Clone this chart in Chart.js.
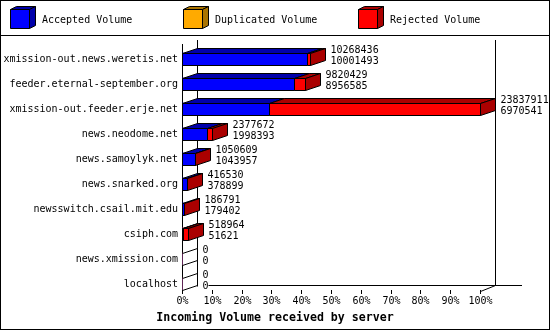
<!DOCTYPE html>
<html>
<head>
<meta charset="utf-8">
<script src="https://cdn.jsdelivr.net/npm/chart.js@4/dist/chart.umd.min.js"></script>
<style>
  html, body { margin: 0; padding: 0; background: #fff; }
  canvas { display: block; }
</style>
</head>
<body>
<canvas id="volumeChart" width="550" height="330"></canvas>
<script>
// data
const servers = [
  'xmission-out.news.weretis.net',
  'feeder.eternal-september.org',
  'xmission-out.feeder.erje.net',
  'news.neodome.net',
  'news.samoylyk.net',
  'news.snarked.org',
  'newsswitch.csail.mit.edu',
  'csiph.com',
  'news.xmission.com',
  'localhost'
];
const offered = [10268436, 9820429, 23837911, 2377672, 1050609, 416530, 186791, 518964, 0, 0];
const accepted = [10001493, 8956585, 6970541, 1998393, 1043957, 378899, 179402, 51621, 0, 0];
const duplicated = [0, 0, 0, 0, 0, 0, 0, 0, 0, 0];
const seriesNames = ['Accepted Volume', 'Duplicated Volume', 'Rejected Volume'];
const percentTicks = [0, 10, 20, 30, 40, 50, 60, 70, 80, 90, 100];
const chartTitle = 'Incoming Volume received by server';

const FRONT = ['#0000ff', '#ffaa00', '#ff0000'];
const DARK = ['#0000aa', '#aa7400', '#aa0000'];
const DX = 15, DY = 5;
const MONO = "'DejaVu Sans Mono', monospace";

const maxVol = Math.max(...offered);
const rejected = offered.map((v, i) => v - accepted[i] - duplicated[i]);
const pct = arr => arr.map(v => v / maxVol * 100);

Chart.defaults.font.family = MONO;
Chart.defaults.font.size = 10;
Chart.defaults.color = '#000';

const poly = (ctx, pts, fill) => {
  ctx.beginPath();
  ctx.moveTo(pts[0][0], pts[0][1]);
  for (let i = 1; i < pts.length; i++) ctx.lineTo(pts[i][0], pts[i][1]);
  ctx.closePath();
  if (fill) { ctx.fillStyle = fill; ctx.fill(); }
  ctx.strokeStyle = '#000';
  ctx.lineWidth = 1;
  ctx.stroke();
};

const line = (ctx, x1, y1, x2, y2) => {
  ctx.beginPath();
  ctx.moveTo(x1, y1);
  ctx.lineTo(x2, y2);
  ctx.strokeStyle = '#000';
  ctx.lineWidth = 1;
  ctx.stroke();
};

const rowBox = (chart, i) => {
  const el = chart.getDatasetMeta(0).data[i];
  const top = Math.round(el.y - el.height / 2);
  return { top: top, bottom: top + Math.round(el.height) };
};

const box3d = {
  id: 'box3d',
  beforeDraw(chart) {
    const ctx = chart.ctx;
    ctx.save();
    ctx.fillStyle = '#fff';
    ctx.fillRect(0, 0, chart.width, chart.height);
    ctx.strokeStyle = '#000';
    ctx.lineWidth = 1;
    ctx.strokeRect(0.5, 0.5, chart.width - 1, chart.height - 1);
    line(ctx, 0, 35.5, chart.width, 35.5);

    // legend with little cubes
    const lx = [10, 183, 358];
    ctx.font = '10px ' + MONO;
    ctx.textBaseline = 'middle';
    ctx.textAlign = 'left';
    seriesNames.forEach((name, k) => {
      const x = lx[k] + 0.5, y = 9.5, s = 19, dx = 6, dy = 3;
      poly(ctx, [[x, y], [x + s, y], [x + s, y + s], [x, y + s]], FRONT[k]);
      poly(ctx, [[x, y], [x + dx, y - dy], [x + s + dx, y - dy], [x + s, y]], DARK[k]);
      poly(ctx, [[x + s, y], [x + s + dx, y - dy], [x + s + dx, y + s - dy], [x + s, y + s]], DARK[k]);
      ctx.fillStyle = '#000';
      ctx.fillText(name, lx[k] + 32, 20);
    });
    ctx.restore();
  },
  beforeDatasetsDraw(chart) {
    const ctx = chart.ctx;
    const xs = chart.scales.x;
    const x0 = Math.round(xs.getPixelForValue(0)) + 0.5;
    const x1 = Math.round(xs.getPixelForValue(100)) + 0.5;
    const last = rowBox(chart, servers.length - 1);
    const floor = last.bottom + 1.5;
    ctx.save();
    line(ctx, x0, 44, x0, floor + 1);
    line(ctx, x0 + DX, 40, x0 + DX, floor - DY);
    line(ctx, x1 + DX, 40, x1 + DX, floor - DY - 1);
    line(ctx, x0 + DX + 11, floor - DY - 1, 522, floor - DY - 1);
    line(ctx, x1, floor, x1 + DX, floor - DY - 1);
    ctx.restore();
  },
  afterDatasetsDraw(chart) {
    const ctx = chart.ctx;
    const xs = chart.scales.x;
    ctx.save();
    ctx.font = '10px ' + MONO;
    ctx.textBaseline = 'middle';
    ctx.textAlign = 'left';
    servers.forEach((srv, i) => {
      const { top, bottom } = rowBox(chart, i);
      const t = top + 0.5, b = bottom + 0.5;
      let endX = Math.round(xs.getPixelForValue(0)) + 0.5;
      let lastK = -1;
      chart.data.datasets.forEach((ds, k) => {
        const el = chart.getDatasetMeta(k).data[i];
        if (!ds.data[i]) return;
        const a = Math.round(el.base) + 0.5;
        const e = Math.max(a, Math.round(el.x) + 0.5);
        poly(ctx, [[a, t], [e, t], [e, b], [a, b]], null);
        poly(ctx, [[a, t], [a + DX, t - DY], [e + DX, t - DY], [e, t]], DARK[k]);
        endX = e;
        lastK = k;
      });
      if (lastK >= 0) {
        poly(ctx, [[endX, t], [endX + DX, t - DY], [endX + DX, b - DY], [endX, b]], DARK[lastK]);
      } else {
        line(ctx, endX, t, endX + DX, t - DY);
        line(ctx, endX, b, endX + DX, b - DY);
      }
      ctx.fillStyle = '#000';
      ctx.fillText(String(offered[i]), endX + DX + 5, top - 3);
      ctx.fillText(String(accepted[i]), endX + DX + 5, top + 8);
    });

    // x ticks and labels
    const floor = rowBox(chart, servers.length - 1).bottom;
    ctx.textAlign = 'center';
    percentTicks.forEach(v => {
      const px = Math.round(xs.getPixelForValue(v)) + 0.5;
      line(ctx, px, floor, px, floor + 4);
      ctx.fillStyle = '#000';
      ctx.fillText(v + '%', px, floor + 11);
    });

    ctx.font = 'bold 11.6px ' + MONO;
    ctx.fillText(chartTitle, chart.width / 2, 318);
    ctx.restore();
  }
};

new Chart(document.getElementById('volumeChart'), {
  type: 'bar',
  data: {
    labels: servers,
    datasets: [
      { label: seriesNames[0], data: pct(accepted), backgroundColor: FRONT[0] },
      { label: seriesNames[1], data: pct(duplicated), backgroundColor: FRONT[1] },
      { label: seriesNames[2], data: pct(rejected), backgroundColor: FRONT[2] }
    ]
  },
  options: {
    indexAxis: 'y',
    responsive: false,
    animation: false,
    devicePixelRatio: 1,
    datasets: { bar: { barThickness: 12, borderWidth: 0, borderSkipped: false } },
    layout: { padding: { left: 0, right: 70, top: 46.5, bottom: 33.5 } },
    scales: {
      x: {
        stacked: true,
        display: false,
        min: 0,
        max: 100,
        ticks: { stepSize: 10 }
      },
      y: {
        stacked: true,
        grid: { display: false, drawTicks: false, tickLength: 0 },
        border: { display: false },
        ticks: { padding: 4, font: { size: 10, family: MONO }, color: '#000' },
        afterFit(scale) { scale.width = 182; }
      }
    },
    plugins: {
      legend: { display: false },
      title: { display: false },
      tooltip: { enabled: false }
    }
  },
  plugins: [box3d]
});
</script>
</body>
</html>
